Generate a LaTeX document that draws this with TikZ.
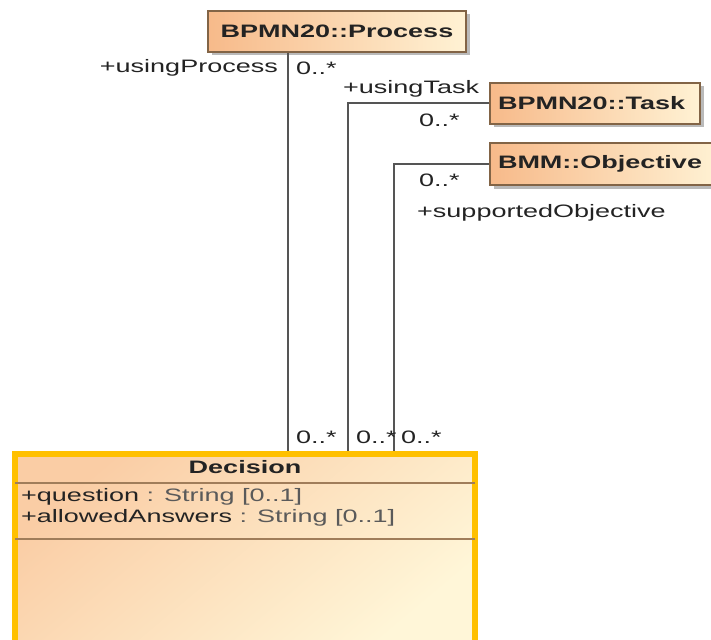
\documentclass[tikz,border=0pt]{standalone}
\usepackage{fontspec}
\newfontfamily\umlfont{Liberation Sans}[FakeStretch=1.5]
\usetikzlibrary{shadows}
\definecolor{boxL}{RGB}{247,186,138}
\definecolor{boxR}{RGB}{255,242,212}
\definecolor{decL}{RGB}{250,205,165}
\definecolor{decR}{RGB}{255,246,216}
\definecolor{boxEdge}{RGB}{130,100,70}
\definecolor{decEdge}{RGB}{255,192,0}
\definecolor{sepLine}{RGB}{160,125,90}
\definecolor{wire}{RGB}{85,85,85}
\definecolor{txt}{RGB}{35,35,35}
\definecolor{typetxt}{RGB}{90,90,90}
\tikzset{
  umltext/.style={font=\umlfont\fontsize{18}{21}\selectfont, text=txt},
  classbox/.style={umltext, draw=boxEdge, line width=1.1pt, left color=boxL, right color=boxR,
    inner sep=0pt, font=\umlfont\fontsize{18}{21}\selectfont\bfseries,
    drop shadow={fill=black!45, opacity=0.6, shadow xshift=3.5pt, shadow yshift=-3.5pt}},
  lbl/.style={umltext, inner sep=0pt, anchor=west},
  wireline/.style={draw=wire, line width=2pt},
}
\begin{document}
\begin{tikzpicture}[x=1pt,y=-1pt]
\useasboundingbox (0,0) rectangle (711,639);
\fill[white] (0,0) rectangle (711,639);
\clip (0,0) rectangle (711,639);

% Decision class
\node[draw=decEdge, line width=6pt, top color=decL, bottom color=decR, shading angle=40,
      minimum width=460pt, minimum height=192pt, inner sep=0pt] (dec) at (245,550) {};
\node[umltext, font=\umlfont\fontsize{18}{21}\selectfont\bfseries, inner sep=0pt] (dectitle) at (245,467) {Decision};
\draw[sepLine, line width=1.2pt] ([xshift=3pt]dec.west |- 0,483) coordinate (s1a) -- ([xshift=-3pt]dec.east |- 0,483) coordinate (s1b);
\draw[sepLine, line width=1.2pt] ([xshift=3pt]dec.west |- 0,539) coordinate (s2a) -- ([xshift=-3pt]dec.east |- 0,539) coordinate (s2b);
\node[lbl] (attr1) at (21,497) {+question\ \textcolor{typetxt}{: String [0..1]}};
\node[lbl] (attr2) at (21,518) {+allowedAnswers\ \textcolor{typetxt}{: String [0..1]}};

% small classes
\node[classbox, minimum width=258pt, minimum height=41pt] (proc) at (337,31.5) {BPMN20::Process};
\node[classbox, minimum width=210pt, minimum height=41pt, text width=194pt, align=left] (task) at (595,103.5) {BPMN20::Task};
\node[classbox, minimum width=230pt, minimum height=42pt, text width=214pt, align=left] (obj) at (605,164) {BMM::Objective};

% connector end points on Decision top edge
\coordinate (p1) at (288,451);
\coordinate (t1) at (348,451);
\coordinate (o1) at (394,451);

\draw[wireline] (proc.south -| p1) -- (p1);
\draw[wireline] (task.west) -| (t1);
\draw[wireline] (obj.west) -| (o1);

% labels
\node[umltext, inner sep=0pt, anchor=east] (lp) at (278,68) {+usingProcess};
\node[lbl] (mp) at (296,68) {0..*};
\node[lbl] (lt) at (343,89) {+usingTask};
\node[lbl] (mt) at (419,120) {0..*};
\node[lbl] (mo) at (419,180) {0..*};
\node[lbl] (lo) at (417,213) {+supportedObjective};
\node[lbl] (b1) at (296,437) {0..*};
\node[lbl] (b2) at (356,437) {0..*};
\node[lbl] (b3) at (401,437) {0..*};
\end{tikzpicture}
\end{document}
